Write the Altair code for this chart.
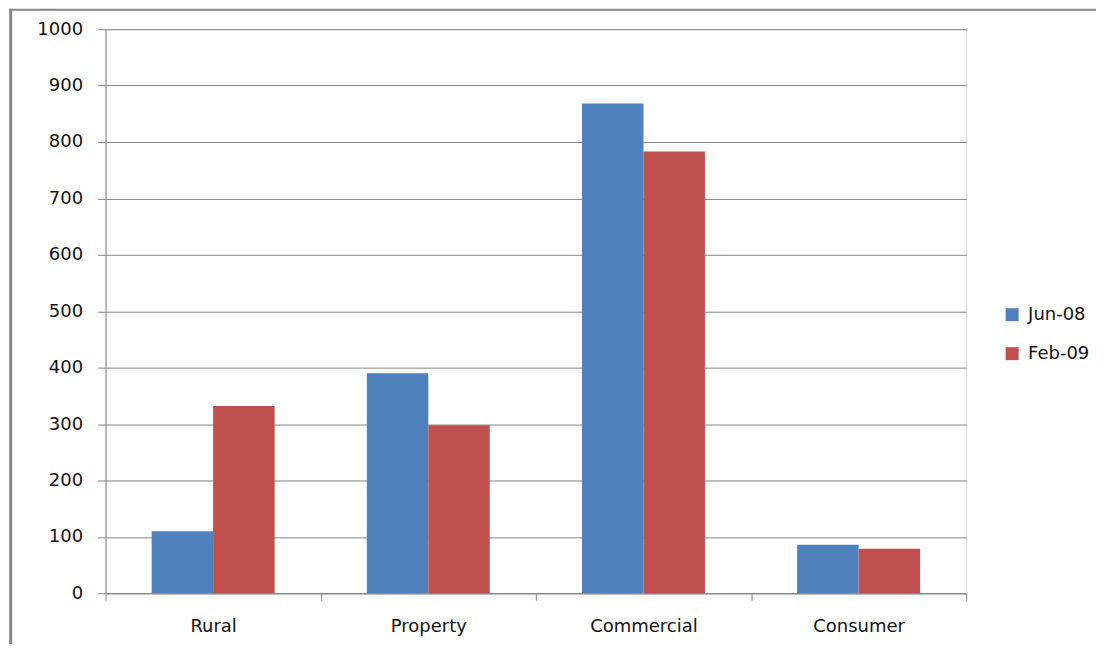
import altair as alt
import pandas as pd

categories = ["Rural", "Property", "Commercial", "Consumer"]
series_names = ["Jun-08", "Feb-09"]
jun08 = [110, 390, 868, 86]
feb09 = [332, 298, 783, 79]

rows = []
for i, c in enumerate(categories):
    rows.append({"category": c, "series": series_names[0], "value": jun08[i]})
    rows.append({"category": c, "series": series_names[1], "value": feb09[i]})
df = pd.DataFrame(rows)

FONT = "DejaVu Sans"
GRAY = "#868686"

bars = alt.Chart(df).mark_bar(cornerRadius=0).encode(
    x=alt.X(
        "category:N",
        sort=categories,
        title=None,
        scale=alt.Scale(paddingInner=0, paddingOuter=0),
        axis=alt.Axis(
            labelAngle=0,
            labelFont=FONT,
            labelFontSize=18,
            labelColor="#111111",
            labelPadding=17,
            labelBaseline="top",
            tickBand="extent",
            tickSize=7,
            tickColor=GRAY,
            domainColor=GRAY,
            grid=False,
        ),
    ),
    xOffset=alt.XOffset(
        "series:N",
        sort=series_names,
        scale=alt.Scale(paddingInner=0, paddingOuter=0.75),
    ),
    y=alt.Y(
        "value:Q",
        title=None,
        scale=alt.Scale(domain=[0, 1000], nice=False),
        axis=alt.Axis(
            values=[0, 100, 200, 300, 400, 500, 600, 700, 800, 900, 1000],
            format="d",
            labelFont=FONT,
            labelFontSize=18,
            labelColor="#111111",
            labelPadding=15,
            tickSize=8,
            tickColor=GRAY,
            domainColor=GRAY,
            gridColor=GRAY,
            gridWidth=1,
        ),
    ),
    color=alt.Color(
        "series:N",
        sort=series_names,
        scale=alt.Scale(domain=series_names, range=["#4F81BD", "#C0504D"]),
        legend=alt.Legend(
            title=None,
            orient="none",
            legendX=899,
            legendY=277,
            symbolType="square",
            symbolSize=169,
            symbolStrokeWidth=0,
            labelFont=FONT,
            labelFontSize=18,
            labelColor="#111111",
            labelOffset=7,
            rowPadding=21,
            padding=0,
        ),
    ),
)

frame_top = alt.Chart(pd.DataFrame({"k": [0]})).mark_rule(color=GRAY, strokeWidth=2).encode(
    x=alt.value(-96), x2=alt.value(1000), y=alt.value(-19.5)
)
frame_left = alt.Chart(pd.DataFrame({"k": [0]})).mark_rule(color=GRAY, strokeWidth=3).encode(
    x=alt.value(-95), y=alt.value(-20.5), y2=alt.value(700)
)

chart = alt.layer(bars, frame_top, frame_left).properties(
    width=862,
    height=565,
    padding={"left": 97.7, "top": 20.7, "right": 130, "bottom": 50},
    autosize=alt.AutoSizeParams(type="none"),
).configure_view(stroke=None).configure(background="white")

chart.save("out.html", embed_options={"renderer": "svg", "actions": False})
